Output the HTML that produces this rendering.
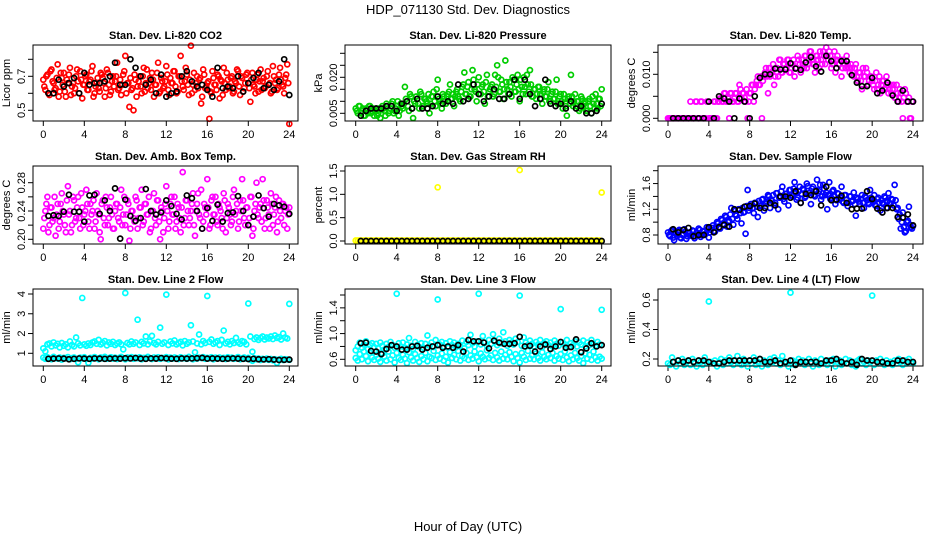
<!DOCTYPE html>
<html><head><meta charset="utf-8"><style>
html,body{margin:0;padding:0;background:#fff;}
svg{display:block;font-family:"Liberation Sans",Arial,sans-serif;}
</style></head><body>
<svg id="chart" width="936" height="540" viewBox="0 0 936 540" xmlns="http://www.w3.org/2000/svg">
<text x="468" y="14" text-anchor="middle" font-size="13">HDP_071130  Std. Dev. Diagnostics</text>
<text x="468" y="531" text-anchor="middle" font-size="13">Hour of Day (UTC)</text>
</svg>
<script>
// shared sample times (hours)
const timesColored = [0,0.2,0.4,0.6,0.8,1,1.2,1.4,1.6,1.8,2,2.2,2.4,2.6,2.8,3,3.2,3.4,3.6,3.8,4,4.2,4.4,4.6,4.8,5,5.2,5.4,5.6,5.8,6,6.2,6.4,6.6,6.8,7,7.2,7.4,7.6,7.8,8,8.2,8.4,8.6,8.8,9,9.2,9.4,9.6,9.8,10,10.2,10.4,10.6,10.8,11,11.2,11.4,11.6,11.8,12,12.2,12.4,12.6,12.8,13,13.2,13.4,13.6,13.8,14,14.2,14.4,14.6,14.8,15,15.2,15.4,15.6,15.8,16,16.2,16.4,16.6,16.8,17,17.2,17.4,17.6,17.8,18,18.2,18.4,18.6,18.8,19,19.2,19.4,19.6,19.8,20,20.2,20.4,20.6,20.8,21,21.2,21.4,21.6,21.8,22,22.2,22.4,22.6,22.8,23,23.2,23.4,23.6,23.8,24];
const timesMid = [0.1,0.3,0.5,0.7,0.9,1.1,1.3,1.5,1.7,1.9,2.1,2.3,2.5,2.7,2.9,3.1,3.3,3.5,3.7,3.9,4.1,4.3,4.5,4.7,4.9,5.1,5.3,5.5,5.7,5.9,6.1,6.3,6.5,6.7,6.9,7.1,7.3,7.5,7.7,7.9,8.1,8.3,8.5,8.7,8.9,9.1,9.3,9.5,9.7,9.9,10.1,10.3,10.5,10.7,10.9,11.1,11.3,11.5,11.7,11.9,12.1,12.3,12.5,12.7,12.9,13.1,13.3,13.5,13.7,13.9,14.1,14.3,14.5,14.7,14.9,15.1,15.3,15.5,15.7,15.9,16.1,16.3,16.5,16.7,16.9,17.1,17.3,17.5,17.7,17.9,18.1,18.3,18.5,18.7,18.9,19.1,19.3,19.5,19.7,19.9,20.1,20.3,20.5,20.7,20.9,21.1,21.3,21.5,21.7,21.9,22.1,22.3,22.5,22.7,22.9,23.1,23.3,23.5,23.7,23.9];
const timesBlack = [0.5,1,1.5,2,2.5,3,3.5,4,4.5,5,5.5,6,6.5,7,7.5,8,8.5,9,9.5,10,10.5,11,11.5,12,12.5,13,13.5,14,14.5,15,15.5,16,16.5,17,17.5,18,18.5,19,19.5,20,20.5,21,21.5,22,22.5,23,23.5,24];
const xTicks = [0,4,8,12,16,20,24];

const co2Colored = [0.68,0.62,0.71,0.59,0.74,0.66,0.63,0.77,0.61,0.69,0.72,
0.58,0.66,0.75,0.64,0.60,0.70,0.67,0.73,0.57,0.65,0.71,
0.62,0.68,0.76,0.60,0.66,0.63,0.72,0.69,0.58,0.74,0.65,
0.61,0.70,0.67,0.78,0.63,0.59,0.71,0.82,0.66,0.52,0.62,
0.50,0.68,0.64,0.70,0.60,0.75,0.66,0.63,0.69,0.72,0.58,
0.65,0.78,0.61,0.67,0.64,0.76,0.62,0.69,0.66,0.73,0.60,
0.70,0.82,0.64,0.67,0.71,0.59,0.88,0.65,0.62,0.70,0.68,
0.54,0.74,0.63,0.66,0.45,0.60,0.69,0.65,0.71,0.57,0.67,
0.75,0.62,0.68,0.64,0.70,0.61,0.66,0.73,0.59,0.69,0.63,
0.71,0.66,0.55,0.72,0.64,0.68,0.61,0.74,0.67,0.63,0.70,
0.65,0.60,0.76,0.66,0.62,0.71,0.68,0.64,0.69,0.77,0.42];
const co2ColoredMid = [0.64,0.70,0.60,0.73,0.67,0.62,0.69,0.58,0.72,0.65,0.61,0.68,
0.71,0.59,0.66,0.63,0.74,0.60,0.68,0.65,0.70,0.62,0.67,0.73,
0.58,0.64,0.69,0.61,0.71,0.66,0.63,0.72,0.59,0.67,0.64,0.70,
0.62,0.68,0.65,0.73,0.60,0.66,0.69,0.63,0.71,0.58,0.67,0.64,
0.70,0.61,0.74,0.66,0.62,0.68,0.65,0.72,0.60,0.69,0.63,0.67,
0.71,0.59,0.66,0.73,0.64,0.61,0.70,0.67,0.62,0.75,0.65,0.68,
0.60,0.72,0.66,0.63,0.69,0.58,0.71,0.64,0.67,0.61,0.73,0.65,
0.62,0.70,0.68,0.59,0.66,0.72,0.63,0.69,0.60,0.67,0.74,0.64,
0.70,0.61,0.66,0.72,0.63,0.68,0.65,0.60,0.71,0.67,0.62,0.69,
0.64,0.73,0.66,0.61,0.70,0.68,0.63,0.75,0.65,0.60,0.71,0.66];
const co2Black = [0.60,0.60,0.68,0.64,0.66,0.69,0.60,0.72,0.65,0.66,0.66,0.67,0.70,0.78,0.65,0.65,0.80,0.75,0.70,0.65,0.68,0.60,0.71,0.58,0.60,0.61,0.70,0.73,0.67,0.64,0.65,0.62,0.58,0.75,0.63,0.64,0.63,0.70,0.61,0.66,0.69,0.72,0.63,0.65,0.62,0.67,0.80,0.59];

const pressColored = [0.007,0.005,0.008,0.006,0.004,0.007,0.005,0.008,0.006,0.004,0.007,
0.005,0.003,0.008,0.006,0.009,0.005,0.007,0.010,0.006,0.008,0.004,
0.009,0.007,0.016,0.010,0.006,0.012,0.003,0.009,0.011,0.007,0.013,
0.008,0.011,0.009,0.005,0.012,0.014,0.008,0.019,0.010,0.007,0.012,
0.009,0.013,0.017,0.011,0.008,0.014,0.012,0.010,0.016,0.022,0.013,
0.018,0.012,0.023,0.015,0.010,0.020,0.013,0.017,0.009,0.021,0.014,
0.016,0.012,0.021,0.025,0.014,0.019,0.011,0.027,0.015,0.018,0.012,
0.019,0.014,0.021,0.010,0.016,0.020,0.013,0.017,0.023,0.012,0.015,
0.011,0.016,0.013,0.009,0.015,0.012,0.018,0.010,0.014,0.011,0.019,
0.009,0.013,0.007,0.011,0.004,0.012,0.021,0.008,0.013,0.010,0.006,
0.012,0.008,0.010,0.006,0.011,0.005,0.009,0.013,0.007,0.011,0.015];
const pressColoredMid = [0.006,0.008,0.005,0.007,0.004,0.006,0.008,0.005,0.007,0.006,0.004,0.007,
0.005,0.007,0.004,0.008,0.006,0.009,0.005,0.007,0.010,0.006,0.008,0.009,
0.011,0.008,0.013,0.007,0.010,0.012,0.009,0.014,0.008,0.011,0.010,0.013,
0.009,0.012,0.010,0.015,0.011,0.009,0.013,0.010,0.012,0.014,0.011,0.013,
0.012,0.015,0.011,0.014,0.017,0.013,0.016,0.012,0.015,0.019,0.014,0.017,
0.013,0.016,0.014,0.018,0.012,0.015,0.017,0.013,0.016,0.020,0.014,0.017,
0.015,0.018,0.013,0.016,0.020,0.014,0.017,0.015,0.019,0.013,0.016,0.021,
0.014,0.017,0.012,0.015,0.013,0.016,0.011,0.014,0.012,0.015,0.010,0.013,
0.011,0.014,0.009,0.012,0.010,0.013,0.008,0.011,0.009,0.012,0.010,0.008,
0.010,0.007,0.011,0.009,0.006,0.010,0.008,0.012,0.007,0.009,0.011,0.008];
const pressBlack = [0.004,0.006,0.007,0.007,0.007,0.008,0.008,0.006,0.009,0.010,0.007,0.011,0.007,0.007,0.008,0.012,0.009,0.010,0.009,0.017,0.010,0.011,0.017,0.013,0.010,0.012,0.015,0.011,0.011,0.013,0.019,0.011,0.019,0.013,0.008,0.011,0.019,0.009,0.008,0.009,0.007,0.010,0.007,0.008,0.005,0.005,0.006,0.009];

const tempColored = [0,0,0,0,0,0,0,0,0,0,0,
0.0038,0,0,0.0038,0,0.0038,0,0,0.0038,0,0,
0,0.0038,0,0.0038,0.0045,0.0038,0.0057,0.0038,0,0.0057,0.0038,
0.0057,0.0038,0.0076,0.0045,0.0057,0.0038,0,0.0057,0.0076,0.0038,0.0076,
0.0095,0.0076,0,0.0095,0.0114,0.0057,0.0095,0.0104,0.0076,0.0114,0.0095,
0.0133,0.0104,0.0123,0.0114,0.0133,0.0104,0.0123,0.0095,0.0114,0.0133,0.0104,
0.0123,0.0142,0.0114,0.0133,0.0152,0.0123,0.0104,0.0142,0.0114,0.0133,0.0152,
0.0123,0.0142,0.0152,0.0114,0.0133,0.0104,0.0142,0.0123,0.0095,0.0133,0.0114,
0.0123,0.0104,0.0114,0.0095,0.0123,0.0085,0.0104,0.0066,0.0095,0.0114,0.0076,
0.0095,0.0085,0.0066,0.0104,0.0076,0.0057,0.0085,0.0066,0.0095,0.0057,0.0076,
0.0066,0.0047,0.0076,0.0038,0.0057,0,0.0066,0.0038,0.0047,0,0.0038];
const tempColoredMid = [0,0,0,0,0,0,0,0,0,0,0,0,
0,0.0038,0,0,0.0038,0,0,0.0038,0,0,0.0038,0,
0.0038,0.0045,0.0038,0.0057,0.0038,0.0045,0.0057,0.0038,0.0045,0.0057,0.0038,0.0066,
0.0057,0.0047,0.0066,0.0038,0.0057,0.0076,0.0066,0.0085,0.0076,0.0095,0.0085,0.0104,
0.0095,0.0114,0.0104,0.0123,0.0095,0.0114,0.0133,0.0104,0.0123,0.0114,0.0133,0.0104,
0.0123,0.0133,0.0114,0.0142,0.0123,0.0133,0.0114,0.0142,0.0123,0.0152,0.0133,0.0123,
0.0142,0.0133,0.0152,0.0123,0.0142,0.0161,0.0133,0.0142,0.0123,0.0152,0.0133,0.0123,
0.0133,0.0114,0.0123,0.0142,0.0114,0.0123,0.0104,0.0114,0.0095,0.0104,0.0085,0.0114,
0.0095,0.0104,0.0085,0.0095,0.0076,0.0085,0.0066,0.0095,0.0076,0.0085,0.0066,0.0076,
0.0066,0.0057,0.0076,0.0047,0.0057,0.0066,0.0038,0.0047,0.0057,0.0038,0,0.0038];
const tempBlack = [0,0,0,0,0,0,0,0.0038,0,0.005,0.0045,0.0038,0,0.0045,0.0038,0,0.005,0.0092,0.0100,0.0100,0.0113,0.0111,0.0111,0.0125,0.0113,0.0110,0.0127,0.0139,0.0118,0.0106,0.0142,0.0130,0.0114,0.0130,0.0130,0.0098,0.0081,0.0073,0.0073,0.0092,0.0057,0.0063,0.0081,0.0052,0.0038,0.0063,0.0038,0.0038];

const boxColored = [0.215,0.24,0.26,0.22,0.245,0.23,0.205,0.25,0.225,0.265,0.235,
0.21,0.275,0.24,0.22,0.255,0.23,0.26,0.215,0.245,0.235,0.27,
0.225,0.25,0.24,0.215,0.265,0.235,0.2,0.255,0.22,0.245,0.23,
0.26,0.215,0.24,0.25,0.225,0.27,0.235,0.22,0.255,0.198,0.24,
0.23,0.26,0.215,0.245,0.27,0.225,0.25,0.235,0.21,0.24,0.265,
0.22,0.255,0.2,0.24,0.23,0.275,0.215,0.25,0.235,0.26,0.225,
0.245,0.21,0.295,0.23,0.255,0.22,0.24,0.265,0.205,0.25,0.235,
0.27,0.225,0.245,0.285,0.215,0.255,0.235,0.26,0.22,0.245,0.23,
0.265,0.21,0.25,0.235,0.225,0.27,0.24,0.215,0.255,0.285,0.23,
0.245,0.22,0.26,0.205,0.24,0.28,0.23,0.25,0.285,0.215,0.255,
0.235,0.265,0.22,0.245,0.21,0.255,0.23,0.25,0.24,0.215,0.245];
const boxColoredMid = [0.23,0.25,0.21,0.245,0.225,0.26,0.235,0.215,0.25,0.24,0.22,0.255,
0.235,0.21,0.26,0.225,0.245,0.23,0.265,0.22,0.24,0.25,0.215,0.235,
0.255,0.225,0.24,0.21,0.25,0.23,0.26,0.22,0.245,0.235,0.215,0.25,
0.23,0.245,0.22,0.26,0.235,0.25,0.215,0.24,0.225,0.255,0.23,0.245,
0.22,0.25,0.235,0.26,0.215,0.24,0.23,0.255,0.225,0.245,0.21,0.25,
0.24,0.225,0.26,0.235,0.215,0.25,0.23,0.245,0.22,0.255,0.24,0.23,
0.25,0.22,0.24,0.265,0.23,0.215,0.25,0.235,0.245,0.22,0.26,0.235,
0.225,0.25,0.24,0.215,0.255,0.23,0.245,0.22,0.26,0.235,0.25,0.225,
0.24,0.255,0.22,0.245,0.23,0.26,0.215,0.25,0.235,0.245,0.225,0.255,
0.23,0.245,0.215,0.25,0.235,0.26,0.225,0.24,0.25,0.22,0.245,0.235];
const boxBlack = [0.233,0.234,0.233,0.239,0.263,0.239,0.239,0.225,0.262,0.263,0.236,0.255,0.24,0.272,0.201,0.256,0.233,0.226,0.23,0.271,0.24,0.235,0.238,0.255,0.247,0.236,0.228,0.262,0.258,0.24,0.215,0.244,0.226,0.249,0.225,0.237,0.238,0.261,0.24,0.22,0.232,0.262,0.244,0.232,0.25,0.248,0.246,0.236];

const rhColored = [0.01,0.01,0.01,0.01,0.01,0.01,0.01,0.01,0.01,0.01,0.01,
0.01,0.01,0.01,0.01,0.01,0.01,0.01,0.01,0.01,0.01,0.01,
0.01,0.01,0.01,0.01,0.01,0.01,0.01,0.01,0.01,0.01,0.01,
0.01,0.01,0.01,0.01,0.01,0.01,0.01,1.15,0.01,0.01,0.01,
0.01,0.01,0.01,0.01,0.01,0.01,0.01,0.01,0.01,0.01,0.01,
0.01,0.01,0.01,0.01,0.01,0.01,0.01,0.01,0.01,0.01,0.01,
0.01,0.01,0.01,0.01,0.01,0.01,0.01,0.01,0.01,0.01,0.01,
0.01,0.01,0.01,1.52,0.01,0.01,0.01,0.01,0.01,0.01,0.01,
0.01,0.01,0.01,0.01,0.01,0.01,0.01,0.01,0.01,0.01,0.01,
0.01,0.01,0.01,0.01,0.01,0.01,0.01,0.01,0.01,0.01,0.01,
0.01,0.01,0.01,0.01,0.01,0.01,0.01,0.01,0.01,0.01,1.04];
const rhBlack = [0,0,0,0,0,0,0,0,0,0,0,0,0,0,0,0,0,0,0,0,0,0,0,0,0,0,0,0,0,0,0,0,0,0,0,0,0,0,0,0,0,0,0,0,0,0,0,0];

const flowColored = [0.84,0.78,0.88,0.72,0.82,0.86,0.76,0.80,0.89,0.74,0.83,
0.79,0.87,0.75,0.84,0.90,0.77,0.86,0.81,0.92,0.76,0.88,
0.95,0.85,1.00,0.91,1.05,0.97,1.10,0.93,1.02,1.22,0.96,
1.12,1.05,1.20,0.98,1.15,0.82,1.50,1.22,1.28,1.14,1.30,
1.08,1.25,1.35,1.18,1.30,1.42,1.22,1.33,1.27,1.45,1.20,
1.38,1.55,1.32,1.44,1.26,1.50,1.40,1.62,1.35,1.48,1.30,
1.52,1.38,1.60,1.45,1.28,1.55,1.40,1.66,1.48,1.35,1.58,
1.42,1.20,1.62,1.38,1.50,1.28,1.45,1.35,1.55,1.30,1.42,
1.25,1.40,1.32,1.46,1.10,1.36,1.28,1.42,1.22,1.38,1.30,
1.50,1.34,1.42,1.25,1.38,1.18,1.30,1.40,1.22,1.45,1.28,
1.35,1.58,1.20,1.05,0.90,1.15,0.84,1.00,1.24,0.92,0.94];
const flowColoredMid = [0.80,0.86,0.76,0.83,0.79,0.88,0.75,0.82,0.85,0.78,0.84,0.80,
0.86,0.78,0.83,0.88,0.80,0.85,0.82,0.89,0.84,0.91,0.86,0.93,
0.98,0.90,1.03,0.95,1.08,1.00,1.12,1.05,1.18,1.10,1.20,1.14,
1.22,1.16,1.25,1.18,1.28,1.22,1.30,1.24,1.33,1.26,1.36,1.29,
1.32,1.40,1.35,1.42,1.30,1.45,1.38,1.48,1.36,1.44,1.40,1.50,
1.42,1.52,1.46,1.38,1.55,1.44,1.50,1.40,1.56,1.46,1.52,1.42,
1.50,1.45,1.58,1.40,1.52,1.46,1.42,1.36,1.48,1.40,1.34,1.44,
1.38,1.32,1.42,1.35,1.30,1.40,1.33,1.28,1.38,1.32,1.36,1.30,
1.40,1.34,1.28,1.38,1.32,1.26,1.36,1.30,1.34,1.28,1.38,1.32,
1.30,1.36,1.26,1.34,1.22,1.12,1.00,0.92,0.86,1.02,0.96,0.90];
const flowBlack = [0.89,0.84,0.88,0.91,0.78,0.80,0.80,0.92,0.84,0.92,0.96,0.93,1.20,1.19,1.24,1.25,1.29,1.22,1.22,1.30,1.26,1.40,1.40,1.38,1.48,1.30,1.44,1.42,1.48,1.26,1.55,1.34,1.35,1.41,1.30,1.20,1.21,1.21,1.48,1.36,1.21,1.15,1.22,1.22,1.08,1.07,1.12,0.95];

const line2Upper = [1.25,1.10,1.45,1.50,1.35,1.55,1.40,1.48,1.30,1.52,1.38,
1.45,1.30,1.60,1.42,1.35,1.80,1.50,1.40,3.80,1.45,1.38,
1.50,1.42,1.55,1.60,1.48,1.68,1.45,1.52,1.62,1.40,1.55,
1.48,1.58,1.42,1.50,1.55,1.45,1.20,4.05,1.52,1.45,1.60,
1.48,1.55,2.70,1.42,1.58,1.50,1.85,1.45,1.60,1.88,1.52,
1.45,1.58,2.30,1.48,1.55,3.97,1.42,1.60,1.50,1.65,1.45,
1.52,1.58,1.40,1.62,1.48,1.55,2.42,1.60,1.05,1.50,1.95,
1.45,1.62,1.52,3.90,1.58,1.70,1.48,1.55,1.62,1.42,1.68,
2.15,1.50,1.58,1.45,1.62,1.52,1.78,1.55,1.48,1.62,1.58,
1.45,3.52,1.85,1.08,1.72,1.80,1.68,1.78,1.85,1.70,1.80,
1.75,1.85,1.72,1.90,1.78,1.82,1.70,2.00,1.80,1.75,3.50];
const line2Lower = [0.78,0.72,0.80,0.75,0.70,0.82,0.76,0.73,0.79,0.68,0.77,
0.74,0.81,0.70,0.76,0.79,0.72,0.55,0.78,0.74,0.80,0.71,
0.52,0.77,0.73,0.81,0.75,0.70,0.79,0.74,0.82,0.72,0.76,
0.80,0.73,0.78,0.71,0.77,0.82,0.75,0.70,0.79,0.74,0.81,
0.72,0.78,0.75,0.80,0.70,0.77,0.73,0.82,0.76,0.71,0.79,
0.74,0.80,0.72,0.77,0.75,0.81,0.70,0.78,0.73,0.79,0.76,
0.71,0.80,0.74,0.77,0.72,0.82,0.75,0.70,0.79,0.73,0.78,
0.76,0.81,0.72,0.77,0.74,0.80,0.70,0.78,0.75,0.79,0.73,
0.77,0.71,0.80,0.74,0.78,0.72,0.76,0.81,0.70,0.75,0.79,
0.73,0.77,0.68,0.62,0.75,0.70,0.74,0.66,0.72,0.69,0.73,
0.67,0.71,0.65,0.70,0.52,0.68,0.72,0.66,0.70,0.69,0.67];
const line2Black = [0.72,0.73,0.74,0.73,0.70,0.72,0.74,0.73,0.72,0.74,0.73,0.72,0.73,0.74,0.73,0.75,0.74,0.76,0.73,0.72,0.74,0.73,0.76,0.74,0.73,0.72,0.74,0.73,0.74,0.75,0.77,0.73,0.74,0.73,0.72,0.73,0.74,0.73,0.72,0.71,0.72,0.70,0.69,0.70,0.68,0.66,0.67,0.68];

const line3Upper = [0.74,0.80,0.86,0.78,0.83,0.88,0.76,0.82,0.85,0.79,0.84,
0.77,0.86,0.81,0.75,0.84,0.79,0.87,0.82,0.78,1.62,0.85,
0.80,0.86,0.78,0.83,0.93,0.81,0.76,0.87,0.82,0.79,0.85,
0.78,0.84,0.97,0.81,0.86,0.79,0.90,1.53,0.83,0.87,0.80,
0.85,0.78,0.88,0.82,0.86,0.79,0.84,0.81,0.89,0.77,0.87,
0.82,0.98,0.85,0.80,0.88,1.62,0.83,0.96,0.86,0.81,0.90,
0.84,0.99,0.87,0.82,0.92,0.85,1.02,0.88,0.81,0.90,0.86,
0.83,0.92,0.87,1.59,0.81,0.94,0.86,0.82,0.89,0.84,0.80,
0.87,0.83,0.90,0.79,0.85,0.88,0.82,0.86,0.80,0.89,0.84,
0.81,1.38,0.86,0.83,0.90,0.79,0.85,0.82,0.88,0.80,0.86,
0.83,0.89,0.80,0.86,0.82,0.90,0.84,0.81,0.87,0.83,1.37];
const line3Lower = [0.62,0.58,0.68,0.60,0.72,0.65,0.57,0.70,0.63,0.59,0.67,
0.61,0.56,0.69,0.64,0.58,0.72,0.60,0.66,0.55,0.70,0.62,
0.59,0.67,0.61,0.54,0.71,0.63,0.58,0.68,0.62,0.56,0.65,
0.60,0.70,0.57,0.64,0.62,0.73,0.59,0.66,0.61,0.69,0.58,
0.64,0.55,0.71,0.62,0.67,0.60,0.73,0.58,0.65,0.62,0.70,
0.59,0.66,0.61,0.72,0.63,0.57,0.69,0.64,0.60,0.74,0.62,
0.66,0.59,0.70,0.63,0.58,0.72,0.61,0.67,0.60,0.71,0.64,
0.57,0.68,0.62,0.55,0.70,0.64,0.59,0.73,0.61,0.66,0.60,
0.69,0.62,0.58,0.71,0.64,0.60,0.67,0.62,0.70,0.58,0.65,
0.61,0.68,0.59,0.72,0.63,0.57,0.66,0.60,0.70,0.62,0.58,
0.65,0.54,0.69,0.61,0.67,0.59,0.72,0.63,0.58,0.64,0.61];
const line3Black = [0.85,0.86,0.73,0.72,0.68,0.76,0.82,0.80,0.75,0.75,0.80,0.81,0.75,0.78,0.80,0.82,0.78,0.80,0.78,0.82,0.72,0.90,0.88,0.88,0.86,0.77,0.89,0.86,0.84,0.84,0.85,0.95,0.80,0.81,0.72,0.80,0.83,0.76,0.80,0.87,0.78,0.79,0.91,0.71,0.77,0.85,0.80,0.82];

const line4Colored = [0.17,0.16,0.21,0.18,0.15,0.19,0.17,0.20,0.16,0.18,0.19,
0.16,0.20,0.17,0.15,0.19,0.18,0.16,0.21,0.17,0.59,0.18,
0.17,0.19,0.15,0.18,0.20,0.16,0.19,0.17,0.21,0.18,0.16,
0.19,0.22,0.17,0.16,0.20,0.18,0.15,0.19,0.17,0.21,0.16,
0.18,0.20,0.15,0.19,0.17,0.16,0.20,0.18,0.21,0.17,0.19,
0.16,0.22,0.18,0.17,0.15,0.65,0.19,0.16,0.18,0.20,0.17,
0.19,0.16,0.18,0.20,0.17,0.15,0.19,0.18,0.16,0.20,0.17,
0.18,0.16,0.19,0.17,0.20,0.15,0.18,0.19,0.16,0.17,0.20,
0.17,0.19,0.16,0.18,0.15,0.19,0.20,0.17,0.18,0.16,0.19,
0.18,0.63,0.16,0.19,0.17,0.20,0.18,0.16,0.19,0.17,0.18,
0.16,0.19,0.17,0.20,0.18,0.16,0.19,0.17,0.20,0.18,0.17];
const line4Black = [0.18,0.19,0.18,0.19,0.18,0.19,0.19,0.18,0.17,0.17,0.18,0.19,0.19,0.19,0.19,0.19,0.19,0.20,0.18,0.18,0.19,0.17,0.18,0.19,0.16,0.18,0.18,0.18,0.18,0.17,0.19,0.19,0.20,0.18,0.17,0.18,0.16,0.20,0.19,0.19,0.18,0.18,0.17,0.17,0.19,0.19,0.18,0.18];

// layout (pixels)
const cols = [{l:33,r:298,x0:43.3,x24:289.3},{l:345,r:611,x0:355.7,x24:601.7},{l:658,r:923,x0:668,x24:913}];
const rows = [{t:45,b:121},{t:166,b:244},{t:289,b:366}];
const panels = [
 {key:'co2',c:0,r:0,title:'Stan. Dev. Li-820 CO2',ylab:'Licor ppm',color:'#ff0000',series:[[timesColored,co2Colored],[timesMid,co2ColoredMid]],black:co2Black,ref:[0.5,110.3,0.8,59.3],ticks:[0.5,0.6,0.7,0.8],labels:['0.5','','0.7','']},
 {key:'pressure',c:1,r:0,title:'Stan. Dev. Li-820 Pressure',ylab:'kPa',color:'#00cd00',series:[[timesColored,pressColored],[timesMid,pressColoredMid]],black:pressBlack,ref:[0.005,113.3,0.030,53.3],ticks:[0.005,0.010,0.015,0.020,0.025,0.030],labels:['0.005','','','0.020','','']},
 {key:'temp',c:2,r:0,title:'Stan. Dev. Li-820 Temp.',ylab:'degrees C',color:'#ff00ff',series:[[timesColored,tempColored],[timesMid,tempColoredMid]],black:tempBlack,ref:[0,118.3,0.010,74.3],ticks:[0,0.005,0.010,0.015],labels:['0.000','','0.010','']},
 {key:'boxtemp',c:0,r:1,title:'Stan. Dev. Amb. Box Temp.',ylab:'degrees C',color:'#ff00ff',series:[[timesColored,boxColored],[timesMid,boxColoredMid]],black:boxBlack,ref:[0.20,239.3,0.28,182.7],ticks:[0.20,0.22,0.24,0.26,0.28],labels:['0.20','','0.24','','0.28']},
 {key:'rh',c:1,r:1,title:'Stan. Dev. Gas Stream RH',ylab:'percent',color:'#ffff00',series:[[timesColored,rhColored]],black:rhBlack,ref:[0,241,1.5,171],ticks:[0,0.5,1,1.5],labels:['0.0','0.5','1.0','1.5']},
 {key:'sampleflow',c:2,r:1,title:'Stan. Dev. Sample Flow',ylab:'ml/min',color:'#0000ff',series:[[timesColored,flowColored],[timesMid,flowColoredMid]],black:flowBlack,ref:[0.8,235,1.8,170.7],ticks:[0.8,1.0,1.2,1.4,1.6,1.8],labels:['0.8','','1.2','','1.6','']},
 {key:'line2',c:0,r:2,title:'Stan. Dev. Line 2 Flow',ylab:'ml/min',color:'#00ffff',series:[[timesColored,line2Upper],[timesColored,line2Lower]],black:line2Black,ref:[1,353.3,4,294],ticks:[1,2,3,4],labels:['1','2','3','4']},
 {key:'line3',c:1,r:2,title:'Stan. Dev. Line 3 Flow',ylab:'ml/min',color:'#00ffff',series:[[timesColored,line3Upper],[timesColored,line3Lower]],black:line3Black,ref:[0.6,359.3,1.6,295],ticks:[0.6,0.8,1.0,1.2,1.4,1.6],labels:['0.6','','1.0','','1.4','']},
 {key:'line4',c:2,r:2,title:'Stan. Dev. Line 4 (LT) Flow',ylab:'ml/min',color:'#00ffff',series:[[timesColored,line4Colored]],black:line4Black,ref:[0.2,359,0.6,300],ticks:[0.2,0.4,0.6],labels:['0.2','0.4','0.6']}
];

const NS='http://www.w3.org/2000/svg';
const svg=document.getElementById('chart');
function mk(tag,attrs,parent){const e=document.createElementNS(NS,tag);for(const k in attrs)e.setAttribute(k,attrs[k]);(parent||svg).appendChild(e);return e;}

panels.forEach(p=>{
  const C=cols[p.c],R=rows[p.r];
  const xs=h=>C.x0+(C.x24-C.x0)*h/24;
  const ys=v=>p.ref[1]+(v-p.ref[0])*(p.ref[3]-p.ref[1])/(p.ref[2]-p.ref[0]);
  const g=mk('g',{});
  
  
  const t=mk('text',{x:(C.l+C.r)/2,y:R.t-6,'text-anchor':'middle','font-size':'11','font-weight':'bold'},g);
  t.textContent=p.title;
  
  
  const yl=mk('text',{transform:`translate(${C.l-23},${(R.t+R.b)/2}) rotate(-90)`,'text-anchor':'middle','font-size':'11'},g);
  yl.textContent=p.ylab;
  
  
  const xa=mk('g',{},g);
  
  
  mk('line',{x1:xs(0),x2:xs(24),y1:R.b,y2:R.b,stroke:'#000'},xa);
  xTicks.forEach(h=>{
    mk('line',{x1:xs(h),x2:xs(h),y1:R.b,y2:R.b+5,stroke:'#000'},xa);
    const tl=mk('text',{x:xs(h),y:R.b+17,'text-anchor':'middle','font-size':'11'},xa);
    tl.textContent=h;
    
    
  });
  const ya=mk('g',{},g);
  
  
  mk('line',{x1:C.l,x2:C.l,y1:ys(p.ticks[0]),y2:ys(p.ticks[p.ticks.length-1]),stroke:'#000'},ya);
  p.ticks.forEach((v,i)=>{
    mk('line',{x1:C.l-5,x2:C.l,y1:ys(v),y2:ys(v),stroke:'#000'},ya);
    if(p.labels[i]){
      const tl=mk('text',{transform:`translate(${C.l-8},${ys(v)}) rotate(-90)`,'text-anchor':'middle','font-size':'11'},ya);
      tl.textContent=p.labels[i];
      
      
    }
  });
  const pts=mk('g',{fill:'none','stroke-width':'1.7'},g);
  
  
  p.series.forEach(([ts,s])=>{
    s.forEach((v,i)=>{
      if(i>=ts.length)return;
      const c=mk('circle',{cx:xs(ts[i]),cy:ys(v),r:2.5,stroke:p.color},pts);
      
      
    });
  });
  p.black.forEach((v,i)=>{
    if(i>=timesBlack.length)return;
    const c=mk('circle',{cx:xs(timesBlack[i]),cy:ys(v),r:2.5,stroke:'#000'},pts);
    
    
  });
  const b=mk('rect',{x:C.l,y:R.t,width:C.r-C.l,height:R.b-R.t,fill:'none',stroke:'#000'},g);
  
  
});
</script>
</body></html>
